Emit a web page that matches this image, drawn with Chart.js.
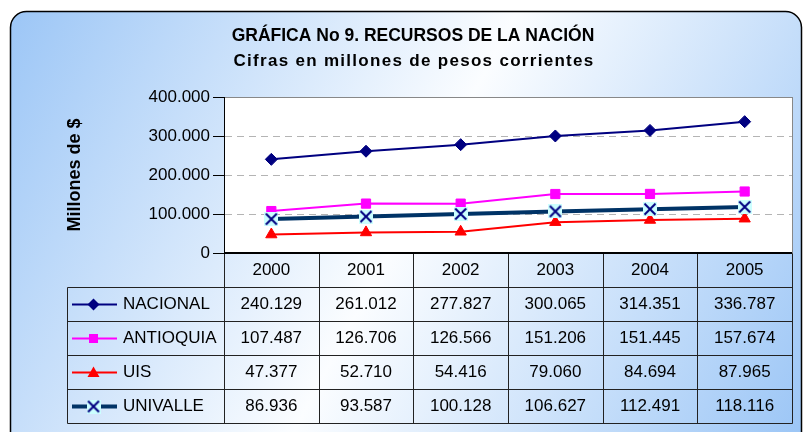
<!DOCTYPE html>
<html>
<head>
<meta charset="utf-8">
<script src="https://cdn.jsdelivr.net/npm/chart.js@4"></script>
<style>
html, body { margin: 0; padding: 0; background: #fff; }
</style>
</head>
<body>
<canvas id="grafica" width="803" height="432"></canvas>
<script>
// Datos de la gráfica
const anios = ['2000', '2001', '2002', '2003', '2004', '2005'];
const nacional = [240129, 261012, 277827, 300065, 314351, 336787];
const antioquia = [107487, 126706, 126566, 151206, 151445, 157674];
const uis = [47377, 52710, 54416, 79060, 84694, 87965];
const univalle = [86936, 93587, 100128, 106627, 112491, 118116];
const nombres = ['NACIONAL', 'ANTIOQUIA', 'UIS', 'UNIVALLE'];
const ejeY = { min: 0, max: 400000, paso: 100000 };
const titulo = ['GRÁFICA No 9. RECURSOS DE LA NACIÓN', 'Cifras en millones de pesos corrientes'];
const tituloEje = 'Millones de $';

const fuente = "'Liberation Sans', Arial, sans-serif";

// Separador de miles con punto
const formato = n => n.toString().replace(/\B(?=(\d{3})+(?!\d))/g, '.');

// Marcador de UNIVALLE: cuadro celeste con una X azul
function marcaUnivalle() {
    const c = document.createElement('canvas');
    c.width = 14; c.height = 14;
    const g = c.getContext('2d');
    g.fillStyle = '#ccffff';
    g.fillRect(0, 0, 14, 14);
    g.strokeStyle = '#000080';
    g.lineWidth = 2;
    g.beginPath();
    g.moveTo(1.5, 1.5); g.lineTo(12.5, 12.5);
    g.moveTo(12.5, 1.5); g.lineTo(1.5, 12.5);
    g.stroke();
    return c;
}
const imgUnivalle = marcaUnivalle();

// Fondo degradado con borde redondeado y área de trazado blanca
const fondo = {
    id: 'fondo',
    beforeDraw(chart) {
        const { ctx, chartArea: a } = chart;
        ctx.save();
        ctx.fillStyle = '#fff';
        ctx.fillRect(0, 0, chart.width, chart.height);
        const grad = ctx.createLinearGradient(10, 11, 801, 432);
        grad.addColorStop(0, '#9cc6f6');
        grad.addColorStop(0.5, '#fbfdff');
        grad.addColorStop(1, '#9cc6f6');
        ctx.beginPath();
        ctx.roundRect(10.5, 11.5, 791, 440, 16);
        ctx.fillStyle = grad;
        ctx.fill();
        ctx.lineWidth = 1.5;
        ctx.strokeStyle = '#000';
        ctx.stroke();

        ctx.fillStyle = '#fff';
        ctx.fillRect(a.left, a.top, a.right - a.left, a.bottom - a.top);
        ctx.strokeStyle = '#888';
        ctx.lineWidth = 1;
        ctx.strokeRect(Math.round(a.left) + 0.5, Math.round(a.top) + 0.5,
            Math.round(a.right - a.left), Math.round(a.bottom - a.top));

        // Títulos
        ctx.fillStyle = '#000';
        ctx.textAlign = 'center';
        ctx.textBaseline = 'middle';
        ctx.font = 'bold 17.5px ' + fuente;
        ctx.fillText(titulo[0], 413, 36);
        ctx.font = 'bold 17px ' + fuente;
        ctx.letterSpacing = '1.3px';
        ctx.fillText(titulo[1], 414, 61);
        ctx.restore();
    }
};

// Tabla de datos bajo la gráfica, alineada con las categorías del eje X
const tablaDatos = {
    id: 'tablaDatos',
    afterDraw(chart) {
        const { ctx, chartArea: a, scales: { x } } = chart;
        const alto = 34;
        const izq = 67.5;
        const ancho = x.getPixelForValue(1) - x.getPixelForValue(0);
        const top = Math.round(a.bottom) + 0.5;
        const filas = chart.data.datasets.length;
        const abajo = top + alto * (filas + 1);

        ctx.save();
        ctx.strokeStyle = '#222';
        ctx.lineWidth = 1;
        ctx.beginPath();
        // líneas horizontales
        for (let r = 1; r <= filas + 1; r++) {
            const y = top + alto * r;
            ctx.moveTo(izq, y);
            ctx.lineTo(Math.round(a.right) + 0.5, y);
        }
        // líneas verticales
        for (let i = 0; i <= anios.length; i++) {
            const xv = Math.round(x.getPixelForValue(i) - ancho / 2) + 0.5;
            ctx.moveTo(xv, top);
            ctx.lineTo(xv, abajo);
        }
        ctx.moveTo(izq, top + alto);
        ctx.lineTo(izq, abajo);
        ctx.stroke();

        // eje X
        ctx.strokeStyle = '#000';
        ctx.lineWidth = 2;
        ctx.beginPath();
        ctx.moveTo(a.left, Math.round(a.bottom));
        ctx.lineTo(a.right, Math.round(a.bottom));
        ctx.stroke();

        ctx.fillStyle = '#000';
        ctx.font = '17px ' + fuente;
        ctx.textBaseline = 'middle';
        ctx.textAlign = 'center';
        anios.forEach((an, i) => {
            ctx.fillText(an, x.getPixelForValue(i), top + alto / 2);
        });

        chart.data.datasets.forEach((ds, r) => {
            const yc = top + alto * (r + 1) + alto / 2;
            ctx.textAlign = 'center';
            ds.data.forEach((v, i) => {
                ctx.fillText(formato(v), x.getPixelForValue(i), yc);
            });
            // clave de la serie
            ctx.save();
            ctx.strokeStyle = ds.borderColor;
            ctx.lineWidth = ds.borderWidth;
            ctx.beginPath();
            ctx.moveTo(72, yc);
            ctx.lineTo(117, yc);
            ctx.stroke();
            const cx = 93.5;
            ctx.fillStyle = ds.pointBackgroundColor;
            ctx.beginPath();
            if (ds.pointStyle === 'rectRot') {
                ctx.moveTo(cx, yc - 6); ctx.lineTo(cx + 6, yc);
                ctx.lineTo(cx, yc + 6); ctx.lineTo(cx - 6, yc);
                ctx.closePath(); ctx.fill();
            } else if (ds.pointStyle === 'rect') {
                ctx.fillRect(cx - 4.5, yc - 4.5, 9, 9);
            } else if (ds.pointStyle === 'triangle') {
                ctx.moveTo(cx, yc - 6); ctx.lineTo(cx + 6, yc + 4.5);
                ctx.lineTo(cx - 6, yc + 4.5);
                ctx.closePath(); ctx.fill();
            } else {
                ctx.drawImage(ds.pointStyle, cx - 7, yc - 7);
            }
            ctx.restore();
            ctx.textAlign = 'left';
            ctx.fillText(nombres[r], 123, yc);
        });
        ctx.restore();
    }
};

new Chart(document.getElementById('grafica'), {
    type: 'line',
    data: {
        labels: anios,
        datasets: [
            {
                label: nombres[0], data: nacional, order: 3,
                borderColor: '#000080', backgroundColor: '#000080', borderWidth: 2,
                pointStyle: 'rectRot', pointRadius: 6, pointBackgroundColor: '#000080',
                pointBorderColor: '#000080', pointBorderWidth: 1
            },
            {
                label: nombres[1], data: antioquia, order: 2,
                borderColor: '#ff00ff', backgroundColor: '#ff00ff', borderWidth: 2,
                pointStyle: 'rect', pointRadius: 6.5, pointBackgroundColor: '#ff00ff',
                pointBorderColor: '#ff00ff', pointBorderWidth: 1
            },
            {
                label: nombres[2], data: uis, order: 1,
                borderColor: '#ff0000', backgroundColor: '#ff0000', borderWidth: 2,
                pointStyle: 'triangle', pointRadius: 6.5, pointBackgroundColor: '#ff0000',
                pointBorderColor: '#ff0000', pointBorderWidth: 1
            },
            {
                label: nombres[3], data: univalle, order: 0,
                borderColor: '#003366', backgroundColor: '#ccffff', borderWidth: 4,
                pointStyle: imgUnivalle, pointRadius: 7, pointBackgroundColor: '#ccffff'
            }
        ]
    },
    options: {
        responsive: false,
        animation: false,
        layout: { padding: { top: 97, left: 20, right: 4, bottom: 179 } },
        plugins: {
            legend: { display: false },
            title: { display: false },
            tooltip: { enabled: false }
        },
        scales: {
            x: { display: false, offset: true },
            y: {
                min: ejeY.min,
                max: ejeY.max,
                afterFit(scale) { scale.width = 204; },
                ticks: {
                    stepSize: ejeY.paso,
                    padding: 3,
                    color: '#000',
                    font: { family: fuente, size: 17 },
                    callback: v => formato(v)
                },
                grid: {
                    color: c => (c.tick && (c.tick.value === ejeY.min || c.tick.value === ejeY.max)) ? 'rgba(0,0,0,0)' : '#b4b4b4',
                    tickColor: '#000',
                    tickLength: 11,
                    lineWidth: 1
                },
                border: { color: '#000', width: 1, dash: [7, 5] },
                title: {
                    display: true,
                    text: tituloEje,
                    color: '#000',
                    font: { family: fuente, size: 18, weight: 'bold' },
                    padding: { top: 44, bottom: 0 }
                }
            }
        }
    },
    plugins: [fondo, tablaDatos]
});
</script>
</body>
</html>
